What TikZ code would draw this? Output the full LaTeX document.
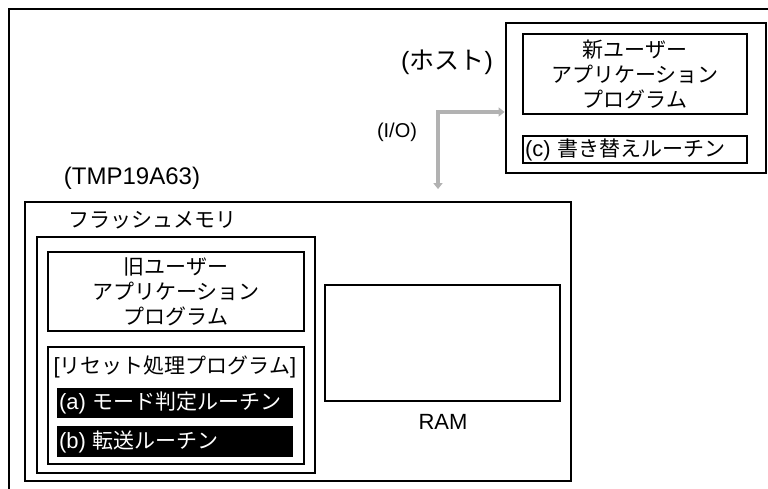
\documentclass[tikz,border=0pt]{standalone}
\usepackage{fontspec}
\setmainfont{Noto Sans CJK JP}
\newfontfamily\latfont{Liberation Sans}
\usetikzlibrary{arrows.meta,positioning}
\newcommand{\jpsize}{\fontsize{21}{25}\selectfont}
\newcommand{\latsize}{\latfont\fontsize{22}{25}\selectfont}

\begin{document}
\begin{tikzpicture}[x=1pt,y=-1pt, inner sep=0pt,
  box/.style={draw,line width=1.8pt,font=\jpsize,align=center},
  heavybox/.style={draw,line width=2.8pt},
  blackbox/.style={fill=black,text=white,font=\jpsize,align=left,minimum height=30pt,text width=232pt,inner xsep=2pt},
  lbl/.style={font=\latsize},
  jlbl/.style={font=\jpsize},
  iolink/.style={draw=black!30,line width=4pt,{Triangle[length=6pt,width=9pt]}-{Triangle[length=6pt,width=9pt]}}]
\useasboundingbox (0,0) rectangle (768,489);
% outer frame, cut off at the right and bottom
\draw[line width=2.8pt] (9,489) -- (9,9) -- (768,9);
% host side
\node[heavybox,minimum width=260pt,minimum height=150pt] (host) at (636,98) {};
\node[box,line width=1.4pt,minimum width=224pt,minimum height=80pt] (newapp) at (635,74) {新ユーザー\\アプリケーション\\プログラム};
\node[box,align=left,text width=220pt,inner xsep=2pt,minimum height=27pt] (rewrite) at (635,149.5) {{\latsize(c)} 書き替えルーチン};
\node[jlbl,font=\fontsize{25}{28}\selectfont] (hostlbl) at (447,62) {{\latfont(}ホスト{\latfont)}};
\node[lbl,font=\latfont\fontsize{20}{24}\selectfont] (iolbl) at (397,132) {(I/O)};
% microcontroller side
\node[box,minimum width=546pt,minimum height=279pt] (chip) at (298,341.5) {};
\node[lbl,font=\latfont\fontsize{24}{28}\selectfont] (chiplbl) at (132,178) {(TMP19A63)};
\node[jlbl] (flashlbl) at (152,220) {フラッシュメモリ};
\node[heavybox,minimum width=278pt,minimum height=236pt] (flash) at (176,355) {};
\node[box,minimum width=256pt,minimum height=79pt] (oldapp) at (176,291.5) {旧ユーザー\\アプリケーション\\プログラム};
\node[box,minimum width=256pt,minimum height=117pt] (reset) at (176,405.5) {};
\node[jlbl] (resetlbl) at (175,367) {{\latsize[}リセット処理プログラム{\latsize]}};
\node[blackbox] (modechk) at (175,403) {{\latsize(a)} モード判定ルーチン};
\node[blackbox,minimum height=31pt] (xfer) at (175,441.5) {{\latsize(b)} 転送ルーチン};
\node[box,minimum width=235pt,minimum height=116pt] (ram) at (442.5,343) {};
\node[lbl] (ramlbl) at (443,422) {RAM};
% I/O link
\coordinate (bend) at (438,112);
\draw[iolink] ([yshift=12pt]bend |- chip.north) -- (bend) -- (bend -| host.west);
\end{tikzpicture}
\end{document}
